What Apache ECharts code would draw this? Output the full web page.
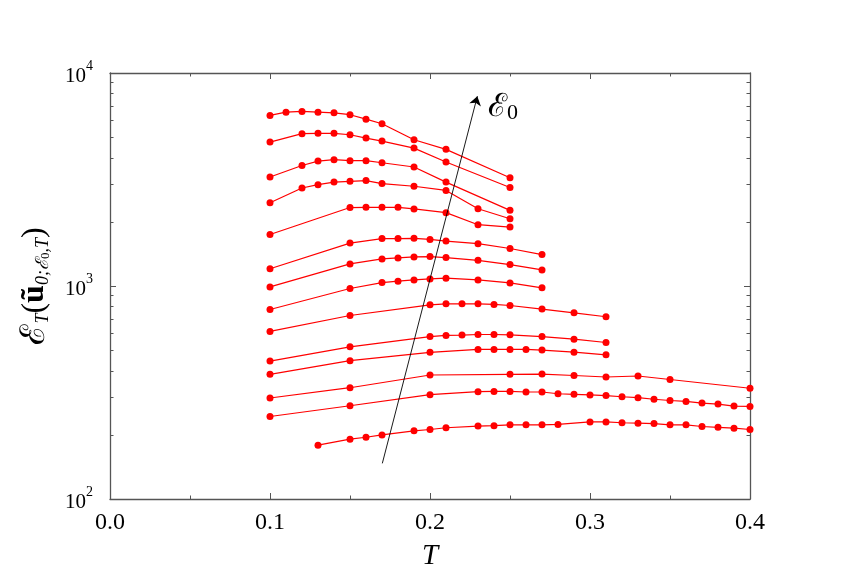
<!DOCTYPE html>
<html>
<head>
<meta charset="utf-8">
<script src="https://cdn.jsdelivr.net/npm/echarts@6/dist/echarts.min.js"></script>
<style>
html,body{margin:0;padding:0;background:#fff;}
#chart{width:858px;height:574px;}
</style>
</head>
<body>
<div id="chart"></div>
<script>
// T values on x, energies E_T on y (log scale)
const curve1 = [[0.10,6320],[0.11,6550],[0.12,6600],[0.13,6550],[0.14,6500],[0.15,6370],[0.16,6070],[0.17,5780],[0.19,4860],[0.21,4380],[0.25,3225]];
const curve2 = [[0.10,4740],[0.12,5190],[0.13,5210],[0.14,5210],[0.15,5130],[0.16,4950],[0.17,4790],[0.19,4440],[0.21,3820],[0.25,2900]];
const curve3 = [[0.10,3250],[0.12,3680],[0.13,3860],[0.14,3920],[0.15,3875],[0.16,3875],[0.17,3790],[0.19,3620],[0.21,3075],[0.25,2265]];
const curve4 = [[0.10,2460],[0.12,2885],[0.13,2990],[0.14,3075],[0.15,3100],[0.16,3125],[0.17,3025],[0.19,2940],[0.21,2810],[0.23,2305],[0.25,2070]];
const curve5 = [[0.10,1745],[0.15,2335],[0.16,2340],[0.17,2340],[0.18,2340],[0.19,2300],[0.21,2210],[0.23,1940],[0.25,1890]];
const curve6 = [[0.10,1205],[0.15,1590],[0.17,1670],[0.18,1670],[0.19,1675],[0.20,1655],[0.21,1625],[0.23,1580],[0.25,1500],[0.27,1405]];
const curve7 = [[0.10,990],[0.15,1270],[0.17,1340],[0.18,1355],[0.19,1370],[0.20,1375],[0.21,1360],[0.23,1320],[0.25,1260],[0.27,1190]];
const curve8 = [[0.10,776],[0.15,973],[0.17,1038],[0.18,1053],[0.19,1068],[0.20,1080],[0.21,1088],[0.23,1068],[0.25,1034],[0.27,980]];
const curve9 = [[0.10,612],[0.15,727],[0.20,816],[0.21,825],[0.22,825],[0.23,825],[0.24,819],[0.25,810],[0.27,779],[0.29,748],[0.31,717]];
const curve10 = [[0.10,444],[0.15,518],[0.20,579],[0.21,586],[0.22,588],[0.23,592],[0.24,592],[0.25,590],[0.27,579],[0.29,563],[0.31,543]];
const curve11 = [[0.10,385],[0.15,446],[0.20,488],[0.23,504],[0.24,504],[0.25,504],[0.26,504],[0.27,500],[0.29,489],[0.31,475]];
const curve12 = [[0.10,298],[0.15,333],[0.20,382],[0.25,385],[0.27,386],[0.29,380],[0.31,374],[0.33,378],[0.35,364],[0.40,331]];
const curve13 = [[0.10,244],[0.15,274],[0.20,309],[0.23,319],[0.24,320],[0.25,320],[0.26,318],[0.27,318],[0.28,312],[0.29,310],[0.30,308],[0.31,306],[0.32,302],[0.33,299],[0.34,294],[0.35,290],[0.36,287],[0.37,282],[0.38,279],[0.39,273],[0.40,272]];
const curve14 = [[0.13,179],[0.15,191],[0.16,195],[0.17,200],[0.19,209],[0.20,212],[0.21,216],[0.23,220],[0.24,221],[0.25,223],[0.26,223],[0.27,223],[0.28,224],[0.30,230],[0.31,230],[0.32,228],[0.33,227],[0.34,226],[0.35,223],[0.36,223],[0.37,219],[0.38,217],[0.39,215],[0.40,212]];

// arrow indicating increasing E_0
const arrowStart = [0.1702, 147];
const arrowEnd = [0.2296, 7785];

// tick values
const xTicks = [0.0, 0.1, 0.2, 0.3, 0.4];
const yMajorTicks = [100, 1000, 10000];
const yMinorTicks = [200,300,400,500,600,700,800,900,2000,3000,4000,5000,6000,7000,8000,9000];

const curves = [curve1,curve2,curve3,curve4,curve5,curve6,curve7,curve8,curve9,curve10,curve11,curve12,curve13,curve14];

const SERIF = "'Liberation Serif','DejaVu Serif',serif";
const AXC = '#555';

const chart = echarts.init(document.getElementById('chart'), null, {renderer:'canvas'});

function yAxisCfg(pos, ticks, len, showLine, showLabels) {
  return {
    type: 'log', logBase: 10, min: 100, max: 10000, position: pos,
    axisLine: {show: showLine, lineStyle: {color: AXC, width: 1.3}},
    axisTick: {show: true, inside: true, length: len, customValues: ticks, lineStyle: {color: AXC, width: 1}},
    axisLabel: showLabels ? {
      show: true, customValues: yMajorTicks, margin: 17,
      formatter: v => '{b|10}{s|' + Math.round(Math.log10(v)) + '}',
      rich: {
        b: {fontFamily: SERIF, fontSize: 21, color: '#000', verticalAlign: 'bottom', padding: [6, 0, 0, 0]},
        s: {fontFamily: SERIF, fontSize: 14, color: '#000', verticalAlign: 'top'}
      }
    } : {show: false},
    splitLine: {show: false}
  };
}

function xAxisCfg(pos, showLabels) {
  return {
    type: 'value', min: 0, max: 0.4, interval: 0.1, position: pos,
    axisLine: {show: true, onZero: false, lineStyle: {color: AXC, width: 1.3}},
    axisTick: {show: true, inside: true, length: 6, lineStyle: {color: AXC, width: 1}},
    minorTick: {show: true, splitNumber: 2, length: 3.5, lineStyle: {color: AXC, width: 1}},
    axisLabel: showLabels ? {show: true, margin: 12, fontFamily: SERIF, fontSize: 24, color: '#000',
      formatter: v => v.toFixed(1)} : {show: false},
    splitLine: {show: false},
    minorSplitLine: {show: false}
  };
}

const xBottom = xAxisCfg('bottom', true);
xBottom.name = 'T';
xBottom.nameLocation = 'middle';
xBottom.nameGap = 43;
xBottom.nameTextStyle = {fontFamily: SERIF, fontStyle: 'italic', fontSize: 29, color: '#000'};

const yLeft = yAxisCfg('left', yMajorTicks, 6, true, true);
yLeft.name = '{e|ℰ}{sub|T}{p|(}{u|ũ}{sub|0;ℰ}{ss|0}{sub|,T}{p|)}';
yLeft.nameLocation = 'middle';
yLeft.nameRotate = 90;
yLeft.nameGap = 58;
yLeft.nameTextStyle = {
  fontWeight: 'normal',
  rich: {
    e: {fontFamily: SERIF, fontWeight: 'normal', fontSize: 34, color: '#000'},
    sub: {fontFamily: SERIF, fontWeight: 'normal', fontStyle: 'italic', fontSize: 18, color: '#000', verticalAlign: 'bottom'},
    ss: {fontFamily: SERIF, fontWeight: 'normal', fontSize: 13, color: '#000', verticalAlign: 'bottom'},
    p: {fontFamily: SERIF, fontWeight: 'normal', fontSize: 32, color: '#000'},
    u: {fontFamily: SERIF, fontWeight: 'bold', fontSize: 32, color: '#000'}
  }
};

const series = curves.map((c, i) => ({
  type: 'line', data: c, xAxisIndex: 0, yAxisIndex: 0,
  symbol: 'circle', symbolSize: 7, showSymbol: true,
  lineStyle: {color: '#ff0000', width: 1.2},
  itemStyle: {color: '#ff0000'},
  z: 3, silent: true, animation: false
}));

series.push({
  type: 'lines', coordinateSystem: 'cartesian2d', xAxisIndex: 0, yAxisIndex: 0,
  polyline: false,
  symbol: ['none', 'arrow'], symbolSize: [0, 9],
  lineStyle: {color: '#000', width: 0.9, opacity: 1, curveness: 0},
  data: [{coords: [arrowStart, arrowEnd]}],
  z: 4, silent: true, animation: false
});

chart.setOption({
  animation: false,
  backgroundColor: '#fff',
  grid: {left: 110, right: 108, top: 73, bottom: 75, containLabel: false, outerBoundsMode: 'none'},
  xAxis: [xBottom, xAxisCfg('top', false)],
  yAxis: [
    yLeft,
    yAxisCfg('left', yMinorTicks, 3.5, false, false),
    yAxisCfg('right', yMajorTicks, 6, true, false),
    yAxisCfg('right', yMinorTicks, 3.5, false, false)
  ],
  graphic: [{
    type: 'text', left: 488, top: 92,
    style: {
      text: '{e|ℰ}{z|0}',
      rich: {
        e: {fontFamily: SERIF, fontSize: 32, fill: '#000'},
        z: {fontFamily: SERIF, fontSize: 22, fill: '#000', verticalAlign: 'bottom'}
      }
    }
  }],
  series: series
});
</script>
</body>
</html>
